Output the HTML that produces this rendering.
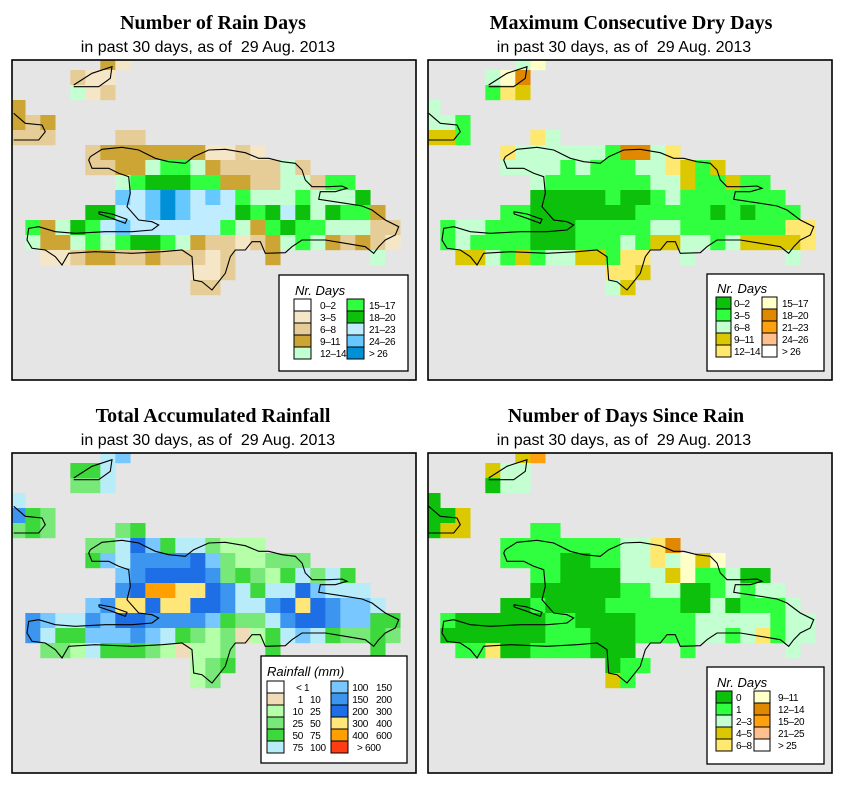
<!DOCTYPE html>
<html><head><meta charset="utf-8">
<style>
html,body{margin:0;padding:0;background:#fff;}
svg{display:block;font-family:"Liberation Sans",sans-serif;}
.t{font-family:"Liberation Serif",serif;font-weight:bold;font-size:20px;}
.s{font-size:16px;}
.lt{font-style:italic;font-size:13px;}
.ll{font-size:10px;letter-spacing:-0.3px;}
</style></head>
<body>
<svg id="chart" width="853" height="793" viewBox="0 0 853 793" xmlns="http://www.w3.org/2000/svg">
<defs>
<clipPath id="c0"><rect x="12" y="60" width="404" height="320"/></clipPath>
<clipPath id="c1"><rect x="428" y="60" width="404" height="320"/></clipPath>
<clipPath id="c2"><rect x="12" y="453" width="404" height="320"/></clipPath>
<clipPath id="c3"><rect x="428" y="453" width="404" height="320"/></clipPath>
</defs>
<text class="t" x="213" y="29" text-anchor="middle">Number of Rain Days</text>
<text class="s" x="208" y="52" text-anchor="middle">in past 30 days, as of &#160;29 Aug. 2013</text>
<text class="t" x="631" y="29" text-anchor="middle">Maximum Consecutive Dry Days</text>
<text class="s" x="624" y="52" text-anchor="middle">in past 30 days, as of &#160;29 Aug. 2013</text>
<text class="t" x="213" y="422" text-anchor="middle">Total Accumulated Rainfall</text>
<text class="s" x="208" y="445" text-anchor="middle">in past 30 days, as of &#160;29 Aug. 2013</text>
<text class="t" x="626" y="422" text-anchor="middle">Number of Days Since Rain</text>
<text class="s" x="624" y="445" text-anchor="middle">in past 30 days, as of &#160;29 Aug. 2013</text>
<g id="panels"></g>
</svg>
<script>
const rainDaysGrid = [
"......31","....211","....412","3","323","222....22",
".....233333331121",".....223345543222242",".......4566655332244255",".......87898787544454446",
".....66778987776567646553",".5346578777777543565544422",".4334545665432212345432321",
"..1123322322212..3......4","............112","............22"];
const dryDaysGrid = [
"......25","....256","....143","2","221","331....42",
".....422222216624",".....222212111224313",".......2111111122311311",".......00000100121111111",
".....11000000011111010111",".1221110001111122111111144",".1211110001112133221233334",
"..3321312233144..2......2","............443","............23"];
const rainfallGrid = [
"......56","....445","....335","5","743","343....34",
".....335864553222",".....465777786322333",".......6788887343245354",".......78aa9987545586555",
".....67998998875578987665",".7655768877776433578876644",".7544666765432312456543343",
"..3325444321223..4......4","............234","............23"];
const sinceRainGrid = [
"......37","....322","....022","0","003","033....11",
".....111111112246",".....111100112242535",".......1100002223511200",".......00000011220012122",
".....00100001111100201112",".1000000110000111122222122",".0000000111000111122124122",
"..114001111000...1......2","............011","............31"];
const rainDaysColors = ['#ffffff','#f5e6c8','#e6cc96','#cca535','#c3ffd0','#30ff40','#0cc00c','#c0ecff','#66c8ff','#0090d8'];
const dryColors = ['#0cc00c','#30ff40','#c3ffd0','#dcc800','#ffe870','#ffffc8','#e08800','#ffa010','#ffc090','#ffffff'];
const rainfallColors = ['#ffffff','#f0dcb8','#b4ffa8','#78e878','#3cd83c','#b8ecf8','#78c8ff','#3c96f0','#1e6ee6','#ffe678','#ffa000','#ff3c14'];
const rainDaysLabels = ['0–2','3–5','6–8','9–11','12–14','15–17','18–20','21–23','24–26','> 26'];
const dryLabels = ['0–2','3–5','6–8','9–11','12–14','15–17','18–20','21–23','24–26','> 26'];
const sinceLabels = ['0','1','2–3','4–5','6–8','9–11','12–14','15–20','21–25','> 25'];
const rainfallLo = ['< 1','1','10','25','50','75','100','150','200','300','400','> 600'];
const rainfallHi = ['','10','25','50','75','100','150','200','300','400','600',''];
const coast = [[235,290],[270,268],[330,262],[380,270],[430,295],[470,305],[520,310],[545,290],[590,270],[640,268],[700,278],[740,295],[770,295],[810,305],[850,310],[870,330],[880,360],[900,380],[950,380],[990,378],[1005,385],[970,395],[925,395],[920,418],[1000,430],[1050,438],[1080,450],[1120,480],[1160,500],[1150,525],[1120,540],[1100,560],[1085,580],[1060,560],[1000,550],[940,540],[870,540],[840,560],[820,578],[760,580],[745,545],[720,545],[700,570],[670,570],[655,590],[640,640],[600,690],[570,665],[545,660],[540,590],[510,570],[450,575],[360,580],[250,575],[200,578],[170,580],[150,615],[130,590],[100,570],[60,565],[45,540],[50,505],[80,500],[130,515],[190,520],[280,515],[360,515],[420,510],[440,495],[420,485],[380,480],[345,440],[355,400],[350,350],[320,340],[290,325],[240,325],[230,300]];
const cuba = [[5,160],[40,190],[90,195],[100,215],[80,240],[5,240]];
const inagua = [[185,75],[240,40],[300,20],[295,55],[260,80],[185,80]];
const gonave = [[260,455],[300,462],[345,478],[340,490],[300,475],[262,462]];

const NS='http://www.w3.org/2000/svg';
const root=document.getElementById('panels');
function mk(tag,attrs,parent){const e=document.createElementNS(NS,tag);for(const k in attrs)e.setAttribute(k,attrs[k]);(parent||root).appendChild(e);return e;}
function code(ch){if(ch==='.'||ch===undefined)return -1;if(ch==='a')return 10;if(ch==='b')return 11;return parseInt(ch,10);}
function cellX(k,dx){return 10.33+15*k+dx;}
function cellY(r,dy){return 55+15*r+dy;}
function toPts(list,dx,dy){return list.map(p=>(12+dx+p[0]/3).toFixed(1)+','+(60+dy+p[1]/3).toFixed(1)).join(' ');}

const panels=[
 {name:'rain-days',grid:rainDaysGrid,colors:rainDaysColors,px:12,py:60,dx:0,dy:0,clip:'c0'},
 {name:'dry-days',grid:dryDaysGrid,colors:dryColors,px:428,py:60,dx:415,dy:0,clip:'c1'},
 {name:'rainfall',grid:rainfallGrid,colors:rainfallColors,px:12,py:453,dx:0,dy:393,clip:'c2'},
 {name:'days-since-rain',grid:sinceRainGrid,colors:dryColors,px:428,py:453,dx:415,dy:393,clip:'c3'}];

panels.forEach(P=>{
  const g=mk('g',{});
  
  
  const bg=mk('rect',{x:P.px,y:P.py,width:404,height:320,fill:'#e5e5e5'},g);
  
  
  const cg=mk('g',{'clip-path':'url(#'+P.clip+')'},g);
  P.grid.forEach((row,r)=>{
    for(let k=0;k<row.length;k++){
      const v=code(row[k]); if(v<0)continue;
      const c=mk('rect',{x:cellX(k,P.dx).toFixed(2),y:cellY(r,P.dy),width:15.2,height:15.2,fill:P.colors[v]},cg);
      
      
    }
  });
  [coast,cuba,inagua,gonave].forEach((poly,i)=>{
    const p=mk('polyline',{points:toPts(i===0||i===3?poly.concat([poly[0]]):poly,P.dx,P.dy),fill:'none',stroke:'#000','stroke-width':1.1},cg);
    
    
  });
  const b=mk('rect',{x:P.px,y:P.py,width:404,height:320,fill:'none',stroke:'#000','stroke-width':1.6},g);
  
  
});

function daysLegend(x,y,w,h,colors,labels,nm,sx1,sx2,lx1,lx2,sw,off){
  const g=mk('g',{});
  
  
  mk('rect',{x:x,y:y,width:w,height:h,fill:'#fff',stroke:'#000','stroke-width':1.3},g);
  const t=mk('text',{x:sx1+1,y:y+off-4,class:'lt'},g);t.textContent='Nr. Days';
  
  
  for(let i=0;i<10;i++){
    const col=i<5?0:1,row=i%5;
    const yy=y+off+row*12;
    const s=mk('rect',{x:col?sx2:sx1,y:yy,width:sw,height:12,fill:colors[i],stroke:'#000','stroke-width':1},g);
    
    
    const l=mk('text',{x:col?lx2:lx1,y:yy+10,class:'ll'},g);l.textContent=labels[i];
    
    
  }
}
daysLegend(279,275,129,96,rainDaysColors,rainDaysLabels,'rain-days-legend',294,347,320,369,17,24);
daysLegend(707,274,117,97,dryColors,dryLabels,'dry-days-legend',716,762,734,782,15,23);
daysLegend(707,667,117,97,dryColors,sinceLabels,'days-since-rain-legend',716,754,736,778,16,24);

(function(){
  const g=mk('g',{});
  
  
  mk('rect',{x:261,y:656,width:146,height:107,fill:'#fff',stroke:'#000','stroke-width':1.3},g);
  const t=mk('text',{x:267,y:676,class:'lt'},g);t.textContent='Rainfall (mm)';
  
  
  for(let i=0;i<12;i++){
    const col=i<6?0:1,row=i%6,yy=681+row*12;
    const s=mk('rect',{x:col?331:267,y:yy,width:17,height:12,fill:rainfallColors[i],stroke:'#000','stroke-width':1},g);
    
    
    const lo=mk('text',{x:col?(i===11?357:368):(i===0?296:303),y:yy+10,class:'ll','text-anchor':(i===0||i===11)?'start':'end'},g);
    lo.textContent=rainfallLo[i];
    
    
    if(rainfallHi[i]){
      const hi=mk('text',{x:col?376:310,y:yy+10,class:'ll'},g);hi.textContent=rainfallHi[i];
      
      
    }
  }
})();
</script>
</body></html>
